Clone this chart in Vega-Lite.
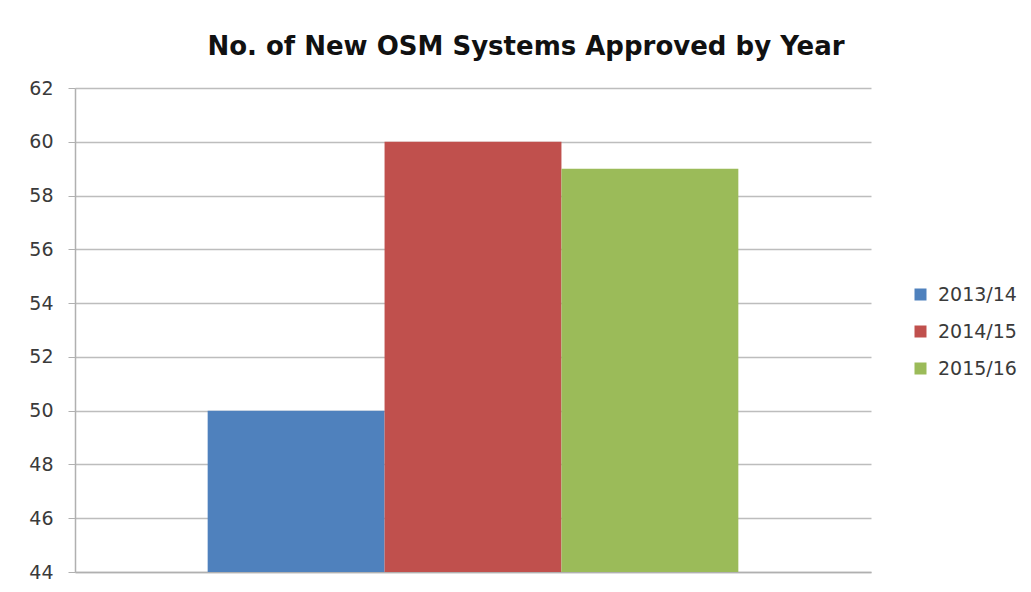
{
  "$schema": "https://vega.github.io/schema/vega-lite/v6.json",
  "width": 796,
  "height": 484,
  "autosize": {"type": "none"},
  "padding": {"left": 75, "top": 88, "right": 160, "bottom": 20},
  "background": "white",
  "title": {
    "text": "No. of New OSM Systems Approved by Year",
    "font": "DejaVu Sans",
    "fontSize": 26,
    "fontWeight": "bold",
    "color": "#111111",
    "anchor": "middle",
    "dx": 53,
    "offset": 19
  },
  "data": {
    "values": [
      {"year": "2013/14", "count": 50},
      {"year": "2014/15", "count": 60},
      {"year": "2015/16", "count": 59}
    ]
  },
  "mark": {"type": "bar", "clip": true},
  "encoding": {
    "x": {
      "field": "year",
      "type": "nominal",
      "scale": {"paddingInner": 0, "paddingOuter": 0.75},
      "axis": {"labels": false, "ticks": false, "title": null, "domainColor": "#b0b0b0", "domainWidth": 1.5}
    },
    "y": {
      "field": "count",
      "type": "quantitative",
      "scale": {"domain": [44, 62], "nice": false, "zero": false},
      "axis": {
        "values": [44, 46, 48, 50, 52, 54, 56, 58, 60, 62],
        "title": null,
        "tickSize": 7,
        "tickColor": "#b0b0b0",
        "domainColor": "#b0b0b0",
        "domainWidth": 1.5,
        "gridColor": "#bdbdbd",
        "gridWidth": 1.5,
        "labelFont": "DejaVu Sans",
        "labelFontSize": 19,
        "labelColor": "#3a3a3a",
        "labelPadding": 15
      }
    },
    "color": {
      "field": "year",
      "type": "nominal",
      "scale": {"range": ["#4F81BD", "#C0504D", "#9BBB59"]},
      "legend": {
        "title": null,
        "orient": "none",
        "legendX": 836,
        "legendY": 197,
        "symbolType": "square",
        "symbolSize": 144,
        "symbolStrokeWidth": 0,
        "labelFont": "DejaVu Sans",
        "labelFontSize": 19,
        "labelColor": "#3a3a3a",
        "rowPadding": 17,
        "labelOffset": 8
      }
    }
  },
  "config": {"view": {"stroke": null}}
}
